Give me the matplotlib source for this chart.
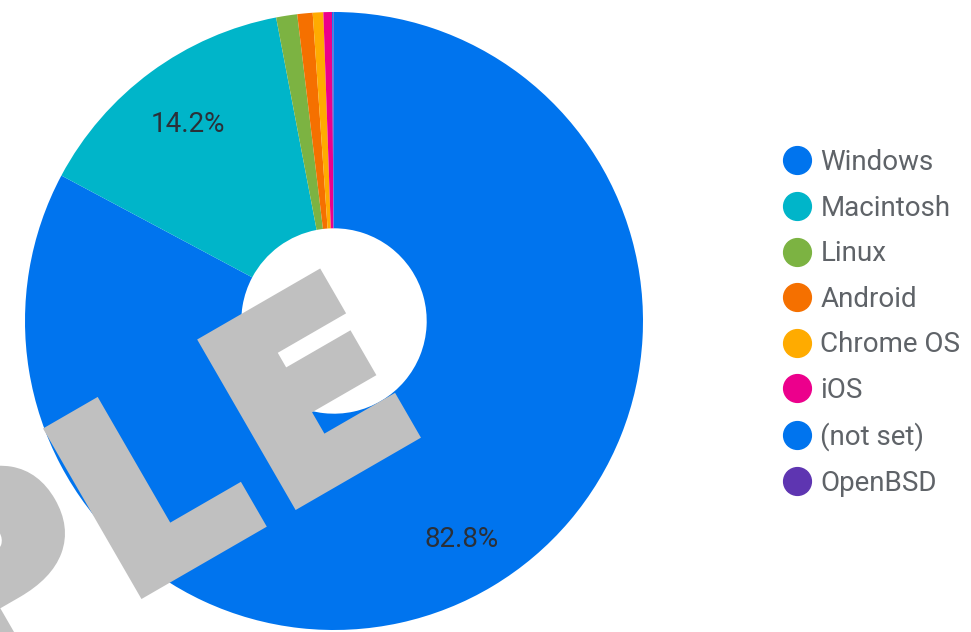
import matplotlib
matplotlib.use('Agg')
import numpy as np
import matplotlib.pyplot as plt
import matplotlib.patheffects as pe
from matplotlib.lines import Line2D

plt.rcParams['font.family'] = ['Roboto', 'DejaVu Sans']

# share of sessions by operating system (%)
systems = ['Windows', 'Macintosh', 'Linux', 'Android', 'Chrome OS', 'iOS', '(not set)', 'OpenBSD']
share = [82.8, 14.2, 1.1, 0.8, 0.55, 0.45, 0.07, 0.03]
colors = ['#0074ee', '#00b5c9', '#7cb342', '#f57000', '#ffab00', '#ec008c', '#0074ee', '#5e35b1']

# watermark letters and their offset (px) along the baseline, relative to the "E"
mark_letters = ['S', 'A', 'M', 'P', 'L', 'E']
mark_offsets = [-1030, -840, -620, -368, -178, 0]

W, H = 971, 632
fig = plt.figure(figsize=(W / 100, H / 100), dpi=100)
ax = fig.add_axes([0, 0, 1, 1])

# pie centre / radius in pixels
cx, cy, r = 334, 321, 309


def pct_label(p):
    return '%.1f%%' % p if p > 5 else ''


wedges, texts, autotexts = ax.pie(share, colors=colors, startangle=90, counterclock=False,
                                  radius=1, autopct=pct_label, pctdistance=0.8,
                                  wedgeprops=dict(width=0.7, edgecolor='none'),
                                  textprops=dict(fontsize=20, color='#2b3038'))
for t in autotexts:
    t.set_va('center_baseline')
autotexts[0].set_y(autotexts[0].get_position()[1] - 4 / r)
ax.set_xlim(-cx / r, (W - cx) / r)
ax.set_ylim(-(H - cy) / r, cy / r)
ax.set_aspect('equal')
ax.axis('off')

# legend
handles = [Line2D([], [], marker='o', linestyle='none', markersize=20,
                  markerfacecolor=c, markeredgecolor=c) for c in colors]
leg = fig.legend(handles, systems, loc='upper left',
                 bbox_to_anchor=(783 / W, 1 - 149 / H), frameon=False,
                 prop=dict(family='Roboto', size=20), labelcolor='#5f6368',
                 handlelength=1.0, handletextpad=0.35, labelspacing=0.67,
                 borderpad=0, borderaxespad=0)

# watermark, rotated 30 degrees; anchor of the "E" in pixels (y down)
ex, ey = 279, 510
ang = np.deg2rad(30)
for ch, off in zip(mark_letters, mark_offsets):
    px = ex + off * np.cos(ang)
    py = ey - off * np.sin(ang)
    fig.text(px / W, 1 - py / H, ch, fontsize=178, fontweight='bold',
             family='DejaVu Sans', color='#c0c0c0', rotation=30, rotation_mode='anchor',
             ha='left', va='baseline',
             path_effects=[pe.Stroke(linewidth=12, foreground='#c0c0c0', joinstyle='miter'),
                           pe.Normal()])

fig.savefig('out.png', dpi=100)
